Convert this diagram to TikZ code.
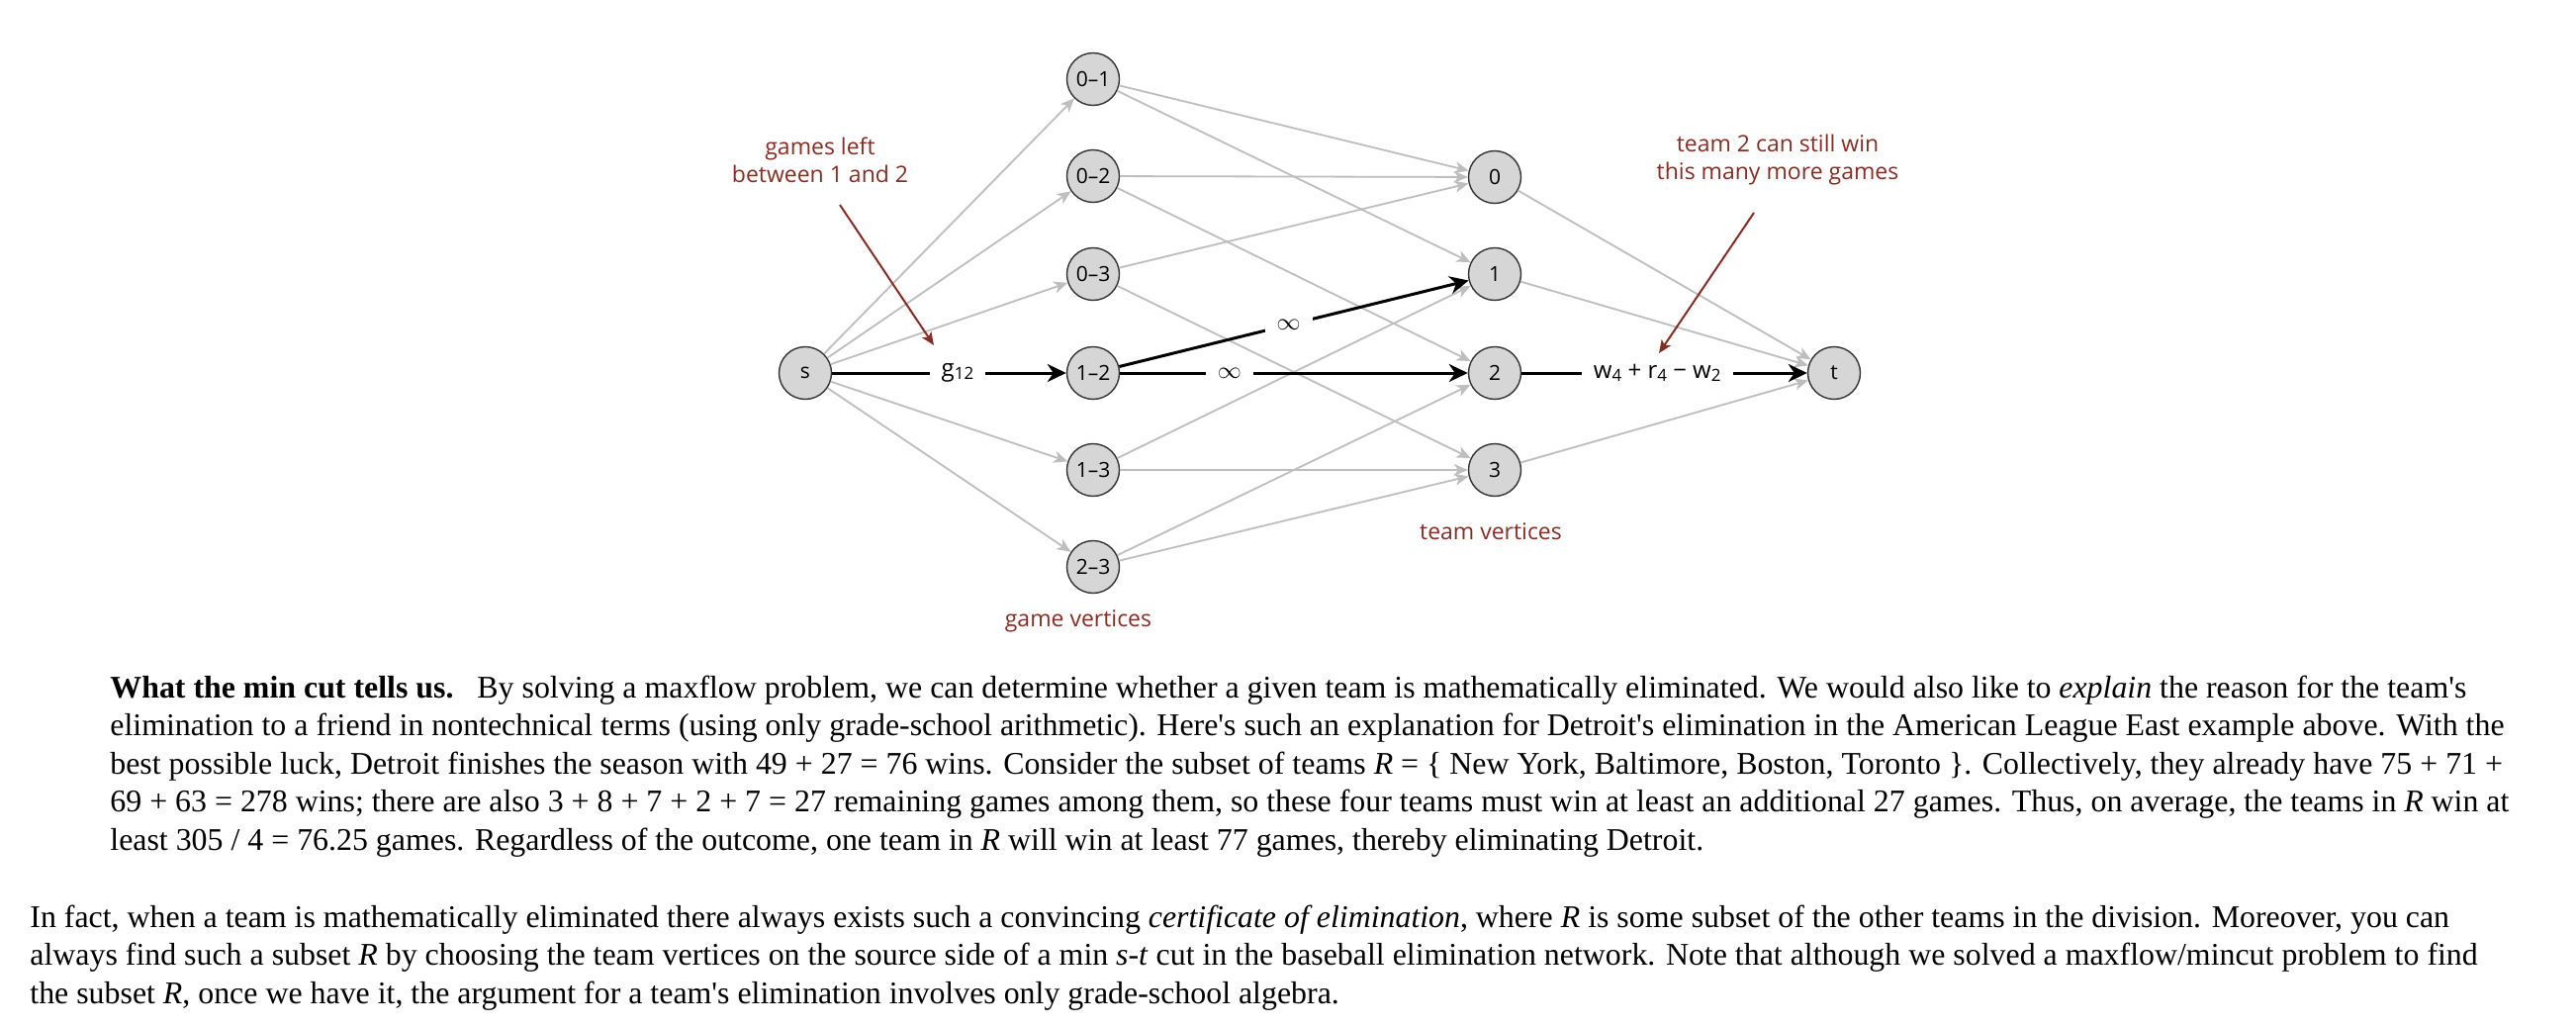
\documentclass[tikz,border=0pt]{standalone}
\usepackage{fontspec}
\setmainfont{Liberation Serif}[Ligatures=TeXOff]
\newfontfamily\dgfont{Open Sans}
\usetikzlibrary{arrows.meta}
\definecolor{annotc}{RGB}{135,45,35}
\definecolor{edgegray}{RGB}{190,190,190}
\definecolor{nodefill}{RGB}{214,214,214}
\newcommand\subn[1]{\raisebox{-0.25ex}{\fontsize{8.5}{9}\selectfont #1}}
\begin{document}
\begin{tikzpicture}[x=0.5pt,y=-0.5pt,
  vtx/.style={circle, draw=black!80, line width=0.7pt, fill=nodefill, minimum size=26.5pt, inner sep=0pt, font=\dgfont\fontsize{10.5}{12}\selectfont},
  gedge/.style={draw=edgegray, line width=0.9pt, -{Stealth[length=7pt,width=6pt,inset=2pt]}},
  bedge/.style={draw=black, line width=1.5pt, -{Stealth[length=9.5pt,width=9pt,inset=3pt]}},
  elabel/.style={fill=white, inner xsep=6pt, inner ysep=2pt, font=\dgfont\fontsize{12}{14}\selectfont},
  annot/.style={text=annotc, align=center, font=\dgfont\fontsize{11.5}{14}\selectfont},
  aarrow/.style={draw=annotc, line width=1pt, -{Stealth[length=6.5pt,width=5.5pt,inset=1.5pt]}},
  para/.style={anchor=base west, inner sep=0pt, font=\fontsize{15.94}{19}\selectfont}
]
\fill[white] (0,0) rectangle (2604,1038);
\useasboundingbox (0,0) rectangle (2604,1038);

% vertices
\node[vtx] (s) at (814,377) {s};
\node[vtx] (g01) at (1105,80) {0–1};
\node[vtx] (g02) at (1105,178) {0–2};
\node[vtx] (g03) at (1105,277) {0–3};
\node[vtx] (g12) at (1105,377) {1–2};
\node[vtx] (g13) at (1105,475) {1–3};
\node[vtx] (g23) at (1105,573) {2–3};
\node[vtx] (t0) at (1511,179) {0};
\node[vtx] (t1) at (1511,277) {1};
\node[vtx] (t2) at (1511,377) {2};
\node[vtx] (t3) at (1511,475) {3};
\node[vtx] (t) at (1854,377) {t};

% gray edges
\foreach \g in {g01,g02,g03,g13,g23} \draw[gedge] (s) -- (\g);
\draw[gedge] (g01) -- (t0);
\draw[gedge] (g01) -- (t1);
\draw[gedge] (g02) -- (t0);
\draw[gedge] (g02) -- (t2);
\draw[gedge] (g03) -- (t0);
\draw[gedge] (g03) -- (t3);
\draw[gedge] (g13) -- (t1);
\draw[gedge] (g13) -- (t3);
\draw[gedge] (g23) -- (t2);
\draw[gedge] (g23) -- (t3);
\draw[gedge] (t0) -- (t);
\draw[gedge] (t1) -- (t);
\draw[gedge] (t3) -- (t);

% black edges
\draw[bedge] (s) -- node[elabel,pos=0.536] (lg) {g\subn{12}} (g12);
\draw[bedge] (g12) -- node[elabel,pos=0.315] (linf2) {$\infty$} (t2);
\draw[bedge] (g12) -- node[elabel,pos=0.485] (linf1) {$\infty$} (t1);
\draw[bedge] (t2) -- node[elabel,pos=0.475] (lw) {w\subn{4} + r\subn{4} − w\subn{2}} (t);

% annotations
\node[annot] (ann1) at (829,162) {games left\\between 1 and 2};
\coordinate (ann1start) at (849,207);
\coordinate (ann1tip) at (944,349);
\draw[aarrow] (ann1start) -- (ann1tip);
\node[annot] (ann2) at (1797,162) {team 2 can still win\\this many more games};
\coordinate (ann2start) at (1773,215);
\coordinate (ann2tip) at (1677,357);
\draw[aarrow] (ann2start) -- (ann2tip);
\node[annot] (teamv) at (1507,537) {team vertices};
\node[annot] (gamev) at (1090,628) {game vertices};

% paragraphs
\node[para] (p1a) at (111,705) {\textbf{What the min cut tells us.}\hspace{0.75em}By solving a maxflow problem, we can determine whether a given team is mathematically eliminated. We would also like to \textit{explain} the reason for the team's};
\node[para] (p1b) at (111,743.5) {elimination to a friend in nontechnical terms (using only grade-school arithmetic). Here's such an explanation for Detroit's elimination in the American League East example above. With the};
\node[para] (p1c) at (111,782) {best possible luck, Detroit finishes the season with 49 + 27 = 76 wins. Consider the subset of teams \textit{R} = \{ New York, Baltimore, Boston, Toronto \}. Collectively, they already have 75 + 71 +};
\node[para] (p1d) at (111,820.5) {69 + 63 = 278 wins; there are also 3 + 8 + 7 + 2 + 7 = 27 remaining games among them, so these four teams must win at least an additional 27 games. Thus, on average, the teams in \textit{R} win at};
\node[para] (p1e) at (111,859) {least 305 / 4 = 76.25 games. Regardless of the outcome, one team in \textit{R} will win at least 77 games, thereby eliminating Detroit.};
\node[para] (p2a) at (30,937) {In fact, when a team is mathematically eliminated there always exists such a convincing \textit{certificate of elimination}, where \textit{R} is some subset of the other teams in the division. Moreover, you can};
\node[para] (p2b) at (30,975.5) {always find such a subset \textit{R} by choosing the team vertices on the source side of a min \textit{s-t} cut in the baseball elimination network. Note that although we solved a maxflow/mincut problem to find};
\node[para] (p2c) at (30,1014) {the subset \textit{R}, once we have it, the argument for a team's elimination involves only grade-school algebra.};
\end{tikzpicture}
\end{document}
